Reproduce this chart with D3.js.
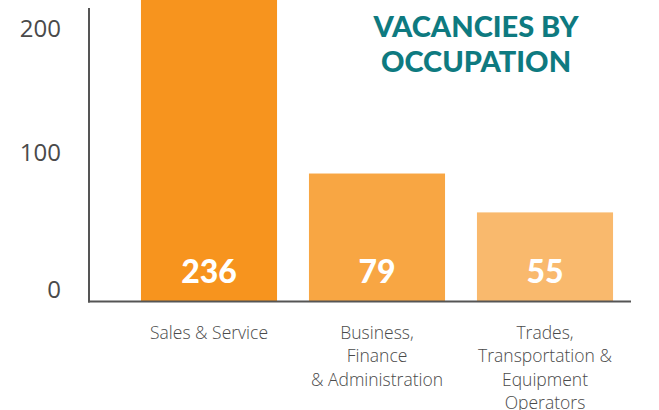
<!DOCTYPE html>
<html>
<head>
<meta charset="utf-8">
<title>Vacancies by Occupation</title>
<script src="https://d3js.org/d3.v7.min.js"></script>
<style>
  body { margin: 0; background: white; }
  .tick-label { font-family: "Open Sans", sans-serif; font-size: 24px; fill: #4a4a4a; }
  .cat { font-family: "Open Sans", sans-serif; font-size: 17.5px; fill: #4a4a4a; font-weight: 300; }
  .val { font-family: "Lato", sans-serif; font-size: 32px; font-weight: 900; fill: white; }
  .title { font-family: "Lato", sans-serif; font-size: 29px; font-weight: 900; fill: #0e7a80; }
</style>
</head>
<body>
<svg width="659" height="410"></svg>
<script>
// data
var categories = ["Sales & Service", "Business, Finance & Administration", "Trades, Transportation & Equipment Operators"];
var catLines = [["Sales & Service"], ["Business,", "Finance", "& Administration"], ["Trades,", "Transportation &", "Equipment", "Operators"]];
var values = [236, 79, 55];
var colors = ["#f7941e", "#f8a643", "#f9b96d"];
var tickValues = [0, 100, 200];
var title = ["VACANCIES BY", "OCCUPATION"];

var svg = d3.select("svg");
var base = 301.5;

var x = d3.scaleBand().domain(categories).range([125, 629]).paddingInner(0.19).paddingOuter(0.095);
var y = d3.scaleLinear().domain([0, 200]).range([base, base - 324]);
// the tick labels in the original sit on their own (uneven) spacing
var yLab = d3.scaleLinear().domain([0, 100, 200]).range([290, 153, 29]);

svg.selectAll("rect.bar")
  .data(values)
  .enter()
  .append("rect")
    .attr("class", "bar")
    .attr("x", function(d, i) { return x(categories[i]); })
    .attr("y", function(d) { return Math.max(0, y(d)); })
    .attr("width", x.bandwidth())
    .attr("height", function(d) { return base - Math.max(0, y(d)); })
    .attr("fill", function(d, i) { return colors[i]; });

svg.selectAll("text.val")
  .data(values)
  .enter()
  .append("text")
    .attr("class", "val")
    .attr("x", function(d, i) { return x(categories[i]) + x.bandwidth() / 2; })
    .attr("y", 283)
    .attr("text-anchor", "middle")
    .text(function(d) { return d; });

// axis lines
svg.append("line").attr("x1", 89).attr("x2", 89).attr("y1", 8).attr("y2", base + 1)
  .attr("stroke", "#555").attr("stroke-width", 2);
svg.append("line").attr("x1", 88).attr("x2", 631).attr("y1", base).attr("y2", base)
  .attr("stroke", "#555").attr("stroke-width", 2);

var yAxis = svg.append("g")
  .attr("transform", "translate(61,0)")
  .call(d3.axisLeft(yLab).tickValues(tickValues).tickSize(0).tickPadding(0));
yAxis.select(".domain").remove();
yAxis.selectAll("text").attr("class", "tick-label").attr("fill", null).attr("font-size", null).attr("font-family", null);

// category labels
svg.selectAll("text.cat")
  .data(catLines)
  .enter()
  .append("text")
    .attr("class", "cat")
    .attr("text-anchor", "middle")
    .attr("transform", function(d, i) { return "translate(" + (x(categories[i]) + x.bandwidth() / 2) + ",339)"; })
    .selectAll("tspan")
    .data(function(d) { return d; })
    .enter()
    .append("tspan")
      .attr("x", 0)
      .attr("y", function(d, j) { return j * 23.3; })
      .text(function(d) { return d; });

svg.append("text")
  .attr("class", "title")
  .attr("text-anchor", "middle")
  .selectAll("tspan")
  .data(title)
  .enter()
  .append("tspan")
    .attr("x", 476)
    .attr("y", function(d, i) { return 37 + i * 35; })
    .text(function(d) { return d; });
</script>
</body>
</html>
